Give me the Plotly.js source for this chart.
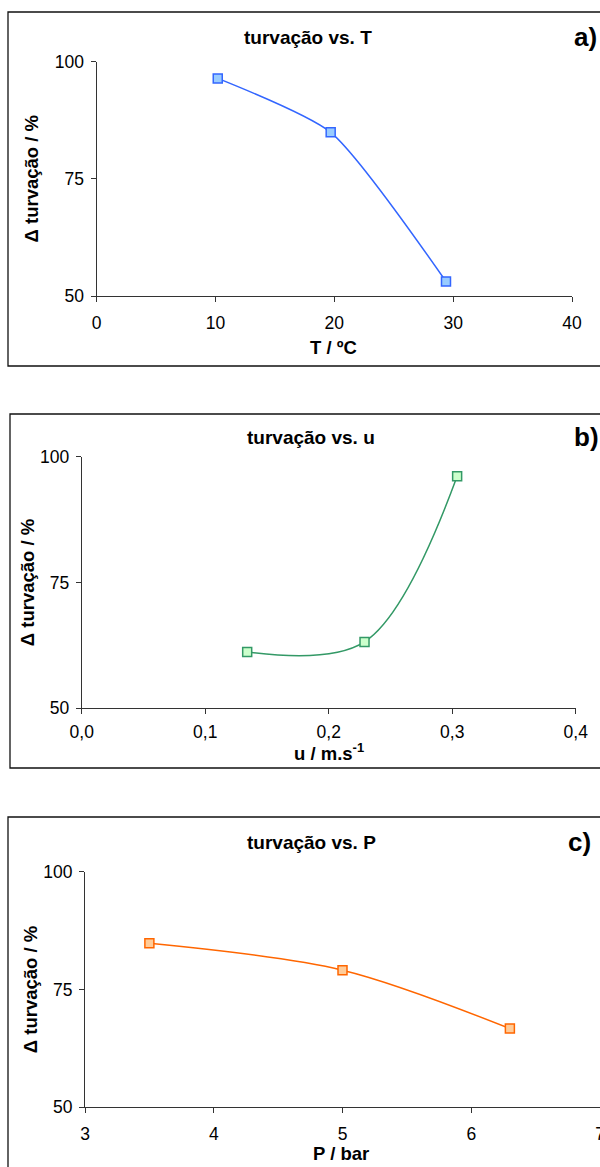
<!DOCTYPE html>
<html>
<head>
<meta charset="utf-8">
<script src="https://cdn.plot.ly/plotly-3.0.1.min.js"></script>
<style>
html,body{margin:0;padding:0;background:#fff;}
#chart{width:600px;height:1167px;}
</style>
</head>
<body>
<div id="chart"></div>
<script>
// ---- data ----
const T_C   = [10.2, 19.7, 29.4];
const turvT = [96.4, 84.9, 53.1];

const u_ms  = [0.134, 0.229, 0.304];
const turvU = [61.2, 63.2, 96.1];

const P_bar = [3.5, 5.0, 6.3];
const turvP = [84.8, 79.1, 66.7];

const panelTitles = ["turvação vs. T", "turvação vs. u", "turvação vs. P"];
const panelLetters = ["a)", "b)", "c)"];
const xTitles = ["T / ºC", "u / m.s<sup>-1</sup>", "P / bar"];
const yTitle = "Δ turvação / %";
const yTicks = [50, 75, 100];

// ---- layout helpers (pixel -> paper) ----
const W = 600, H = 1167;
const px = x => x / W;
const py = y => 1 - y / H;
const FONT = "Liberation Sans, Arial, sans-serif";
const TICK = 17.5, AXT = 18.5;

const styles = [
  {line: "#3366FF", fill: "#99CCFF", smooth: 0.6},
  {line: "#339966", fill: "#CCFFCC", smooth: 1.0},
  {line: "#FF6600", fill: "#FFCC99", smooth: 0.9}
];

function trace(x, y, i) {
  const ax = i === 0 ? "" : String(i + 1);
  return {
    x: x, y: y, xaxis: "x" + ax, yaxis: "y" + ax,
    type: "scatter", mode: "lines+markers",
    line: {color: styles[i].line, width: 1.5, shape: "spline", smoothing: styles[i].smooth},
    marker: {symbol: "square", size: 9, color: styles[i].fill,
             line: {color: styles[i].line, width: 1.5}},
    showlegend: false, hoverinfo: "x+y"
  };
}

const data = [trace(T_C, turvT, 0), trace(u_ms, turvU, 1), trace(P_bar, turvP, 2)];

function xaxis(domain, range, dtick, anchor, fmt, lblOff) {
  return {
    domain: domain, range: range, dtick: dtick, tick0: range[0], anchor: anchor,
    showline: true, linecolor: "#333", linewidth: 1,
    ticks: "outside", ticklen: 5, tickcolor: "#333", tickwidth: 1,
    ticklabelstandoff: lblOff, ticklabeloverflow: "allow",
    showgrid: false, zeroline: false, fixedrange: true,
    tickformat: fmt || "",
    tickfont: {family: FONT, size: TICK, color: "#000"}
  };
}
function yaxis(domain, anchor, standoff) {
  return {
    domain: domain, range: [50, 100], tickvals: yTicks, anchor: anchor,
    showline: true, linecolor: "#333", linewidth: 1,
    ticks: "outside", ticklen: 5, tickcolor: "#333", tickwidth: 1,
    ticklabelstandoff: 3,
    showgrid: false, zeroline: false, fixedrange: true,
    tickfont: {family: FONT, size: TICK, color: "#000"},
    title: {text: yTitle, standoff: standoff,
            font: {family: FONT, size: AXT, color: "#000", weight: "bold"}}
  };
}

// plot areas (pixel positions measured on reference)
const plots = [
  {x0: 96.5, x1: 572,  yT: 61.5,  yB: 296,    titleX: 308, titleY: 37,  letterX: 572, letterY: 37,  xtX: 333, xtY: 347,  frameTop: 12,  frameBot: 366, frameLeft: 8},
  {x0: 81.7, x1: 575.7, yT: 456.7, yB: 708.3, titleX: 311, titleY: 438, letterX: 572, letterY: 437, xtX: 329, xtY: 752,  frameTop: 414, frameBot: 768, frameLeft: 10},
  {x0: 85,   x1: 600,  yT: 871.7, yB: 1107.3, titleX: 311, titleY: 842, letterX: 566, letterY: 842, xtX: 341, xtY: 1153, frameTop: 817, frameBot: 1180, frameLeft: 8}
];

const layout = {
  width: W, height: H,
  margin: {l: 0, r: 0, t: 0, b: 0},
  paper_bgcolor: "#fff", plot_bgcolor: "#fff",
  separators: ",.",
  font: {family: FONT, color: "#000"},
  xaxis:  xaxis([px(plots[0].x0), px(plots[0].x1)], [0, 40], 10, "y", "", 6),
  yaxis:  yaxis([py(plots[0].yB), py(plots[0].yT)], "x", 11),
  xaxis2: xaxis([px(plots[1].x0), px(plots[1].x1)], [0, 0.4], 0.1, "y2", ".1f", 3),
  yaxis2: yaxis([py(plots[1].yB), py(plots[1].yT)], "x2", 0),
  xaxis3: xaxis([px(plots[2].x0), Math.min(1, px(plots[2].x1))], [3, 7], 1, "y3", "", 6),
  yaxis3: yaxis([py(plots[2].yB), py(plots[2].yT)], "x3", 0),
  shapes: plots.map(p => ({
    type: "rect", xref: "paper", yref: "paper",
    x0: px(p.frameLeft), x1: 1.05, y0: py(p.frameBot), y1: py(p.frameTop),
    line: {color: "#111", width: 1.3}, fillcolor: "rgba(0,0,0,0)", layer: "below"
  })),
  annotations: []
};

plots.forEach((p, i) => {
  layout.annotations.push({
    xref: "paper", yref: "paper", x: px(p.titleX), y: py(p.titleY),
    xanchor: "center", yanchor: "middle", showarrow: false,
    text: "<b>" + panelTitles[i] + "</b>",
    font: {family: FONT, size: 19, color: "#000"}
  });
  layout.annotations.push({
    xref: "paper", yref: "paper", x: px(p.letterX), y: py(p.letterY),
    xanchor: "left", yanchor: "middle", showarrow: false,
    text: "<b>" + panelLetters[i] + "</b>",
    font: {family: FONT, size: 26, color: "#000"}
  });
  layout.annotations.push({
    xref: "paper", yref: "paper", x: px(p.xtX), y: py(p.xtY),
    xanchor: "center", yanchor: "middle", showarrow: false,
    text: "<b>" + xTitles[i] + "</b>",
    font: {family: FONT, size: AXT, color: "#000"}
  });
});

Plotly.newPlot("chart", data, layout, {staticPlot: true, displayModeBar: false});
</script>
</body>
</html>
